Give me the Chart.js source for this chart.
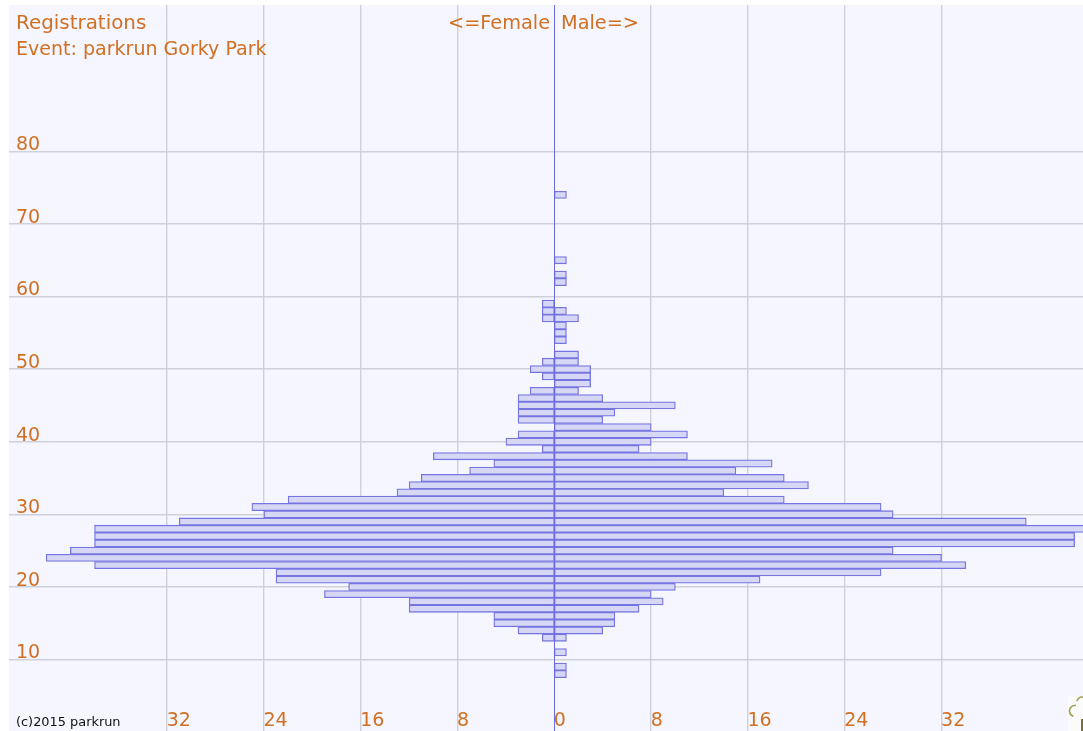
<!DOCTYPE html>
<html>
<head>
<meta charset="utf-8">
<title>Registrations - parkrun Gorky Park</title>
<script src="https://cdn.jsdelivr.net/npm/chart.js@4/dist/chart.umd.min.js"></script>
<style>
html, body { margin: 0; padding: 0; background: #fff; overflow: hidden; }
#wrap { position: absolute; left: 9px; top: 5px; width: 1074px; height: 726px; }
canvas { background: rgb(245, 246, 255); display: block; }
</style>
</head>
<body>
<div id="wrap"><canvas id="pyramid" width="1074" height="726"></canvas></div>
<script>
const ages   = [8, 9, 11, 13, 14, 15, 16, 17, 18, 19, 20, 21, 22, 23, 24, 25, 26, 27, 28, 29, 30, 31, 32, 33, 34, 35, 36, 37, 38, 39, 40, 41, 42, 43, 44, 45, 46, 47, 48, 49, 50, 51, 52, 54, 55, 56, 57, 58, 59, 62, 63, 65, 74];
const female = [0, 0, 0, 1, 3, 5, 5, 12, 12, 19, 17, 23, 23, 38, 42, 40, 38, 38, 38, 31, 24, 25, 22, 13, 12, 11, 7, 5, 10, 1, 4, 3, 0, 3, 3, 3, 3, 2, 0, 1, 2, 1, 0, 0, 0, 0, 1, 1, 1, 0, 0, 0, 0];
const male   = [1, 1, 1, 1, 4, 5, 5, 7, 9, 8, 10, 17, 27, 34, 32, 28, 43, 43, 45, 39, 28, 27, 19, 14, 21, 19, 15, 18, 11, 7, 8, 11, 8, 4, 5, 10, 4, 2, 3, 3, 3, 2, 2, 1, 1, 1, 2, 1, 0, 1, 1, 1, 1];

const ageTicks = [10, 20, 30, 40, 50, 60, 70, 80];
const countTicks = [-32, -24, -16, -8, 0, 8, 16, 24, 32];

const orange = 'rgb(209, 112, 34)';
const barLine = 'rgb(118, 118, 226)';
const barFill = 'rgb(214, 214, 245)';
const gridCol = 'rgb(208, 208, 216)';

function rows(label, values, sign) {
    return {
        label: label,
        data: ages
            .map((a, i) => ({ x: sign * values[i], y: a }))
            .filter(p => p.x !== 0),
        grouped: false,
        barThickness: 7.26,
        backgroundColor: barFill,
        borderColor: barLine,
        borderWidth: 1.3,
        borderSkipped: false
    };
}

// axis labels, captions, centre line and the corner logo all sit on top of the bars
const overlay = {
    id: 'overlay',
    afterDraw(chart) {
        const c = chart.ctx;
        const x = chart.scales.x;
        const y = chart.scales.y;
        const area = chart.chartArea;

        c.save();
        c.strokeStyle = 'rgb(105, 105, 225)';
        c.lineWidth = 1;
        const zero = Math.round(x.getPixelForValue(0)) + 0.5;
        c.beginPath();
        c.moveTo(zero, area.top);
        c.lineTo(zero, area.bottom);
        c.stroke();

        c.fillStyle = orange;
        c.textBaseline = 'alphabetic';
        c.font = '19.9px "DejaVu Sans"';
        c.fillText('Registrations', 7, 24);
        c.font = '19.05px "DejaVu Sans"';
        c.fillText('Event: parkrun Gorky Park', 7, 50);
        c.font = '19.3px "DejaVu Sans"';
        c.fillText('<=Female', 439, 24);
        c.fillText('Male=>', 552, 24);

        c.font = '19px "DejaVu Sans"';
        ageTicks.forEach(v => {
            c.fillText(String(v), 7, y.getPixelForValue(v) - 1);
        });
        countTicks.forEach(v => {
            c.fillText(String(Math.abs(v)), x.getPixelForValue(v) - 0.5, 721);
        });

        c.fillStyle = '#111';
        c.font = '12.9px "DejaVu Sans"';
        c.fillText('(c)2015 parkrun', 7, 721);

        // bit of the parkrun tree, cut off by the page edge
        c.fillStyle = 'rgb(250, 251, 250)';
        c.fillRect(1059, 691, 15, 35);
        c.strokeStyle = 'rgb(160, 160, 85)';
        c.lineWidth = 1.6;
        c.beginPath();
        c.arc(1073, 697, 5, 1.05 * Math.PI, 2 * Math.PI);
        c.moveTo(1067, 700.5);
        c.arc(1066, 706, 5.5, 1.45 * Math.PI, 0.6 * Math.PI, true);
        c.stroke();
        c.fillStyle = 'rgb(130, 110, 60)';
        c.fillRect(1072, 714, 2, 12);
        c.restore();
    }
};

new Chart(document.getElementById('pyramid'), {
    type: 'bar',
    data: {
        datasets: [rows('Female', female, -1), rows('Male', male, 1)]
    },
    options: {
        indexAxis: 'y',
        responsive: false,
        animation: false,
        layout: { padding: 0 },
        plugins: { legend: { display: false }, tooltip: { enabled: false } },
        scales: {
            x: {
                type: 'linear',
                min: -45.07,
                max: 43.69,
                afterBuildTicks: axis => { axis.ticks = countTicks.filter(v => v !== 0).map(v => ({ value: v })); },
                ticks: { display: false },
                border: { display: false },
                grid: { color: gridCol, lineWidth: 1.4, drawTicks: false }
            },
            y: {
                type: 'linear',
                offset: false,
                min: 0.15,
                max: 100.15,
                afterBuildTicks: axis => { axis.ticks = ageTicks.map(v => ({ value: v })); },
                ticks: { display: false },
                border: { display: false },
                grid: { offset: false, color: gridCol, lineWidth: 1.4, drawTicks: false }
            }
        }
    },
    plugins: [overlay]
});
</script>
</body>
</html>
